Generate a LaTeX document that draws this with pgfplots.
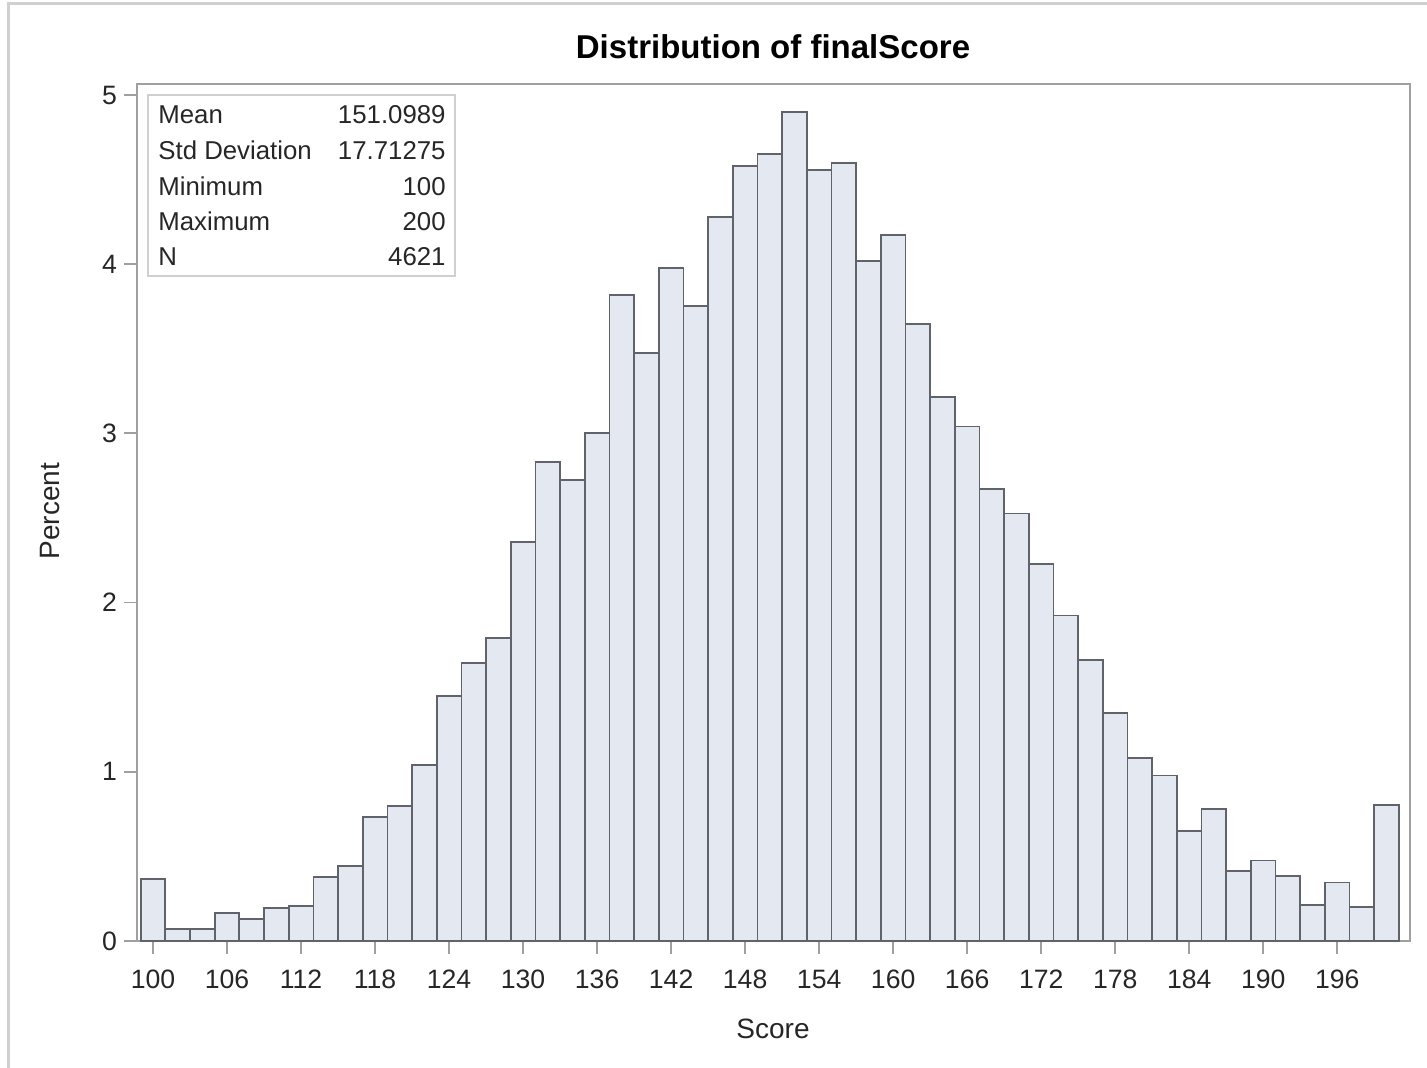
\documentclass[border=0pt]{standalone}
\usepackage{pgfplots}
\pgfplotsset{compat=1.18}
\usepackage{fontspec}
\setmainfont{Liberation Sans}

\definecolor{barfill}{RGB}{228,232,240}
\definecolor{baredge}{RGB}{96,99,108}
\definecolor{framegray}{RGB}{160,160,160}
\definecolor{bordergray}{RGB}{208,208,208}

\begin{document}
\begin{tikzpicture}
% page and outer border, in pixels (y downwards)
\begin{scope}[x=0.5pt,y=-0.5pt]
  \path[use as bounding box] (0,0) rectangle (1427,1068);
  \draw[bordergray, line width=1.5pt] (8,1068) -- (8,4) -- (1427,4);
\end{scope}

\begin{axis}[
  at={(68.5pt,-470.5pt)}, anchor=south west,
  scale only axis, width=636.5pt, height=428.5pt,
  xmin=98.7, xmax=201.9, ymin=0, ymax=5.065,
  xtick={100,106,...,196}, ytick={0,1,2,3,4,5},
  tick align=outside, major tick length=6.5pt,
  xtick pos=bottom, ytick pos=left,
  axis line style={draw=framegray, line width=0.9pt},
  major tick style={draw=framegray, line width=0.9pt},
  tick label style={font=\fontsize{13.3}{15}\selectfont, text=black!85},
  xticklabel style={anchor=north, text height=9.8pt, text depth=0pt, yshift=-4pt},
  /pgf/number format/assume math mode=true,
  /pgf/number format/1000 sep={},
  clip=false,
]
\addplot[ybar interval, fill=barfill, draw=baredge, line width=0.9pt] coordinates {
  (99,0.365) (101,0.073) (103,0.073) (105,0.167) (107,0.128)
  (109,0.193) (111,0.207) (113,0.380) (115,0.443) (117,0.735)
  (119,0.798) (121,1.040) (123,1.446) (125,1.645) (127,1.789)
  (129,2.356) (131,2.831) (133,2.725) (135,3.002) (137,3.820)
  (139,3.475) (141,3.976) (143,3.751) (145,4.281) (147,4.582)
  (149,4.650) (151,4.900) (153,4.557) (155,4.598) (157,4.017)
  (159,4.173) (161,3.647) (163,3.214) (165,3.041) (167,2.673)
  (169,2.527) (171,2.226) (173,1.924) (175,1.661) (177,1.346)
  (179,1.080) (181,0.978) (183,0.648) (185,0.778) (187,0.413)
  (189,0.476) (191,0.384) (193,0.213) (195,0.346) (197,0.200)
  (199,0.804) (201,0.804)
};
\end{axis}

\begin{scope}[x=0.5pt,y=-0.5pt]
  % title and axis labels
  \node[anchor=base, font=\fontsize{16.5}{19}\selectfont\bfseries] at (773,59) {Distribution of finalScore};
  \node[anchor=base, font=\fontsize{14}{16}\selectfont, text=black!85] at (773,1038) {Score};
  \node[rotate=90, anchor=base, font=\fontsize{14}{16}\selectfont, text=black!85] at (59,511) {Percent};
  % statistics inset
  \draw[bordergray, line width=0.9pt] (148,95) rectangle (455,276);
  \begin{scope}[every node/.style={font=\fontsize{12.9}{15}\selectfont, text=black!85, inner sep=0pt}]
    \node[anchor=base west] at (158,124) {Mean};
    \node[anchor=base west] at (158,160) {Std Deviation};
    \node[anchor=base west] at (158,196) {Minimum};
    \node[anchor=base west] at (158,231) {Maximum};
    \node[anchor=base west] at (158,266) {N};
    \node[anchor=base east] at (446,124) {151.0989};
    \node[anchor=base east] at (446,160) {17.71275};
    \node[anchor=base east] at (446,196) {100};
    \node[anchor=base east] at (446,231) {200};
    \node[anchor=base east] at (446,266) {4621};
  \end{scope}
\end{scope}
\end{tikzpicture}
\end{document}
